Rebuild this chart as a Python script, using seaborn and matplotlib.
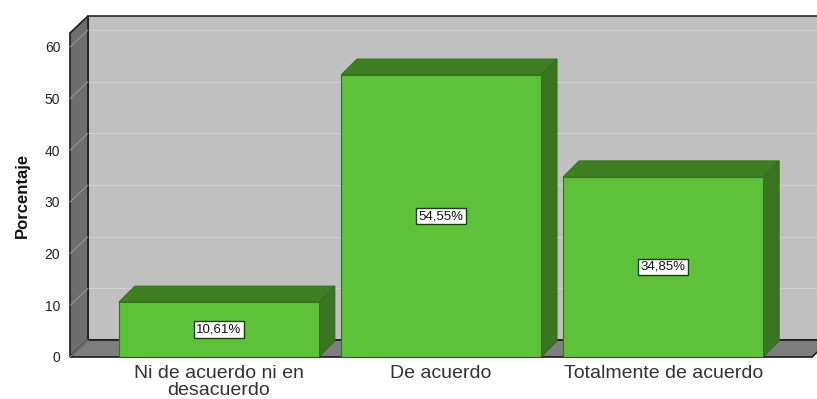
import numpy as np
import pandas as pd
import matplotlib
matplotlib.use("Agg")
import matplotlib.pyplot as plt
from matplotlib.patches import Polygon
from matplotlib.lines import Line2D
from matplotlib.transforms import IdentityTransform
import seaborn as sns

# ---- data -------------------------------------------------------------
categories = ["Ni de acuerdo ni en\ndesacuerdo", "De acuerdo", "Totalmente de acuerdo"]
percentages = [10.61, 54.55, 34.85]
y_ticks = [0, 10, 20, 30, 40, 50, 60]

# ---- style ------------------------------------------------------------
sns.set_theme(style="white")
plt.rcParams["font.family"] = ["Liberation Sans", "DejaVu Sans"]

BACK_WALL = "#c0c0c0"
SIDE_WALL = "#6e6e6e"
FLOOR = "#7e7e7e"
GRID = "#d2d2d2"
BAR_FRONT = "#5ec13a"
BAR_TOP = "#3f7f23"
BAR_SIDE = "#3a7620"
BAR_EDGE = "#35701c"

W, H = 817, 399
fig = plt.figure(figsize=(W / 100, H / 100), dpi=100)
fig.patch.set_facecolor("white")
ax = fig.add_axes([70 / W, 42 / H, 742 / W, 324 / H])

df = pd.DataFrame({"categoria": categories, "porcentaje": percentages})
sns.barplot(data=df, x="categoria", y="porcentaje", width=0.9, color=BAR_FRONT,
            saturation=1, edgecolor=BAR_EDGE, linewidth=0.8, ax=ax, zorder=6)
bars = list(ax.patches)

ax.set_xlim(-0.67, 2.67)
ax.set_ylim(0, 62.7)
ax.patch.set_visible(False)
for s in ax.spines.values():
    s.set_visible(False)

T = ax.transData
I = IdentityTransform()
D_WALL = np.array([18.0, 17.0])   # depth of the chart box, in pixels
D_BAR = np.array([16.0, 16.0])    # depth of each bar, in pixels


def p(x, y):
    return T.transform((x, y))


def poly(pts, fc, ec, z, lw=1.0):
    ax.add_patch(Polygon(np.array(pts), closed=True, facecolor=fc, edgecolor=ec,
                         lw=lw, transform=I, zorder=z, clip_on=False))


def line(a, b, color, z, lw=0.8):
    ax.add_line(Line2D([a[0], b[0]], [a[1], b[1]], color=color, lw=lw,
                       transform=I, zorder=z, clip_on=False))


x0, x1 = ax.get_xlim()
y0, y1 = ax.get_ylim()

# back wall
poly([p(x0, 0) + D_WALL, p(x1, 0) + D_WALL, p(x1, y1) + D_WALL, p(x0, y1) + D_WALL],
     BACK_WALL, "#2a2a2a", 0.5, lw=1.2)
# grid lines on back wall and left wall
for t in y_ticks[1:]:
    line(p(x0, t) + D_WALL, p(x1, t) + D_WALL, GRID, 0.7)
# left wall
poly([p(x0, 0), p(x0, y1), p(x0, y1) + D_WALL, p(x0, 0) + D_WALL],
     SIDE_WALL, "#1a1a1a", 1, lw=1.2)
for t in y_ticks:
    line(p(x0, t), p(x0, t) + D_WALL, "#9a9a9a", 1.1, lw=0.7)
# floor
poly([p(x0, 0), p(x1, 0), p(x1, 0) + D_WALL, p(x0, 0) + D_WALL],
     FLOOR, "#1a1a1a", 1, lw=1.2)

# 3D top and side faces for every bar
for b in bars:
    bx, bw, bh = b.get_x(), b.get_width(), b.get_height()
    poly([p(bx, bh), p(bx + bw, bh), p(bx + bw, bh) + D_BAR, p(bx, bh) + D_BAR],
         BAR_TOP, BAR_EDGE, 5, lw=0.8)
    poly([p(bx + bw, 0), p(bx + bw, bh), p(bx + bw, bh) + D_BAR, p(bx + bw, 0) + D_BAR],
         BAR_SIDE, BAR_EDGE, 5, lw=0.8)
    label = f"{bh:.2f}".replace(".", ",") + "%"
    ax.text(bx + bw / 2, bh / 2, label, ha="center", va="center", fontsize=9.5,
            color="#111111", zorder=8,
            bbox=dict(boxstyle="square,pad=0.18", fc="white", ec="#1f3d12", lw=1))

# axes labels and ticks
ax.set_yticks(y_ticks)
ax.set_yticklabels([str(t) for t in y_ticks])
ax.tick_params(axis="y", length=0, pad=7, labelsize=10, colors="#222222")
ax.tick_params(axis="x", length=0, pad=6, labelsize=14, colors="#333333")
for lab in ax.get_xticklabels():
    lab.set_linespacing(0.95)
ax.set_xlabel("")
ax.set_ylabel("Porcentaje", fontsize=12, fontweight="bold", color="#111111")
ax.yaxis.set_label_coords(-0.054, 0.5)

fig.savefig("out.png", dpi=100, facecolor="white")
